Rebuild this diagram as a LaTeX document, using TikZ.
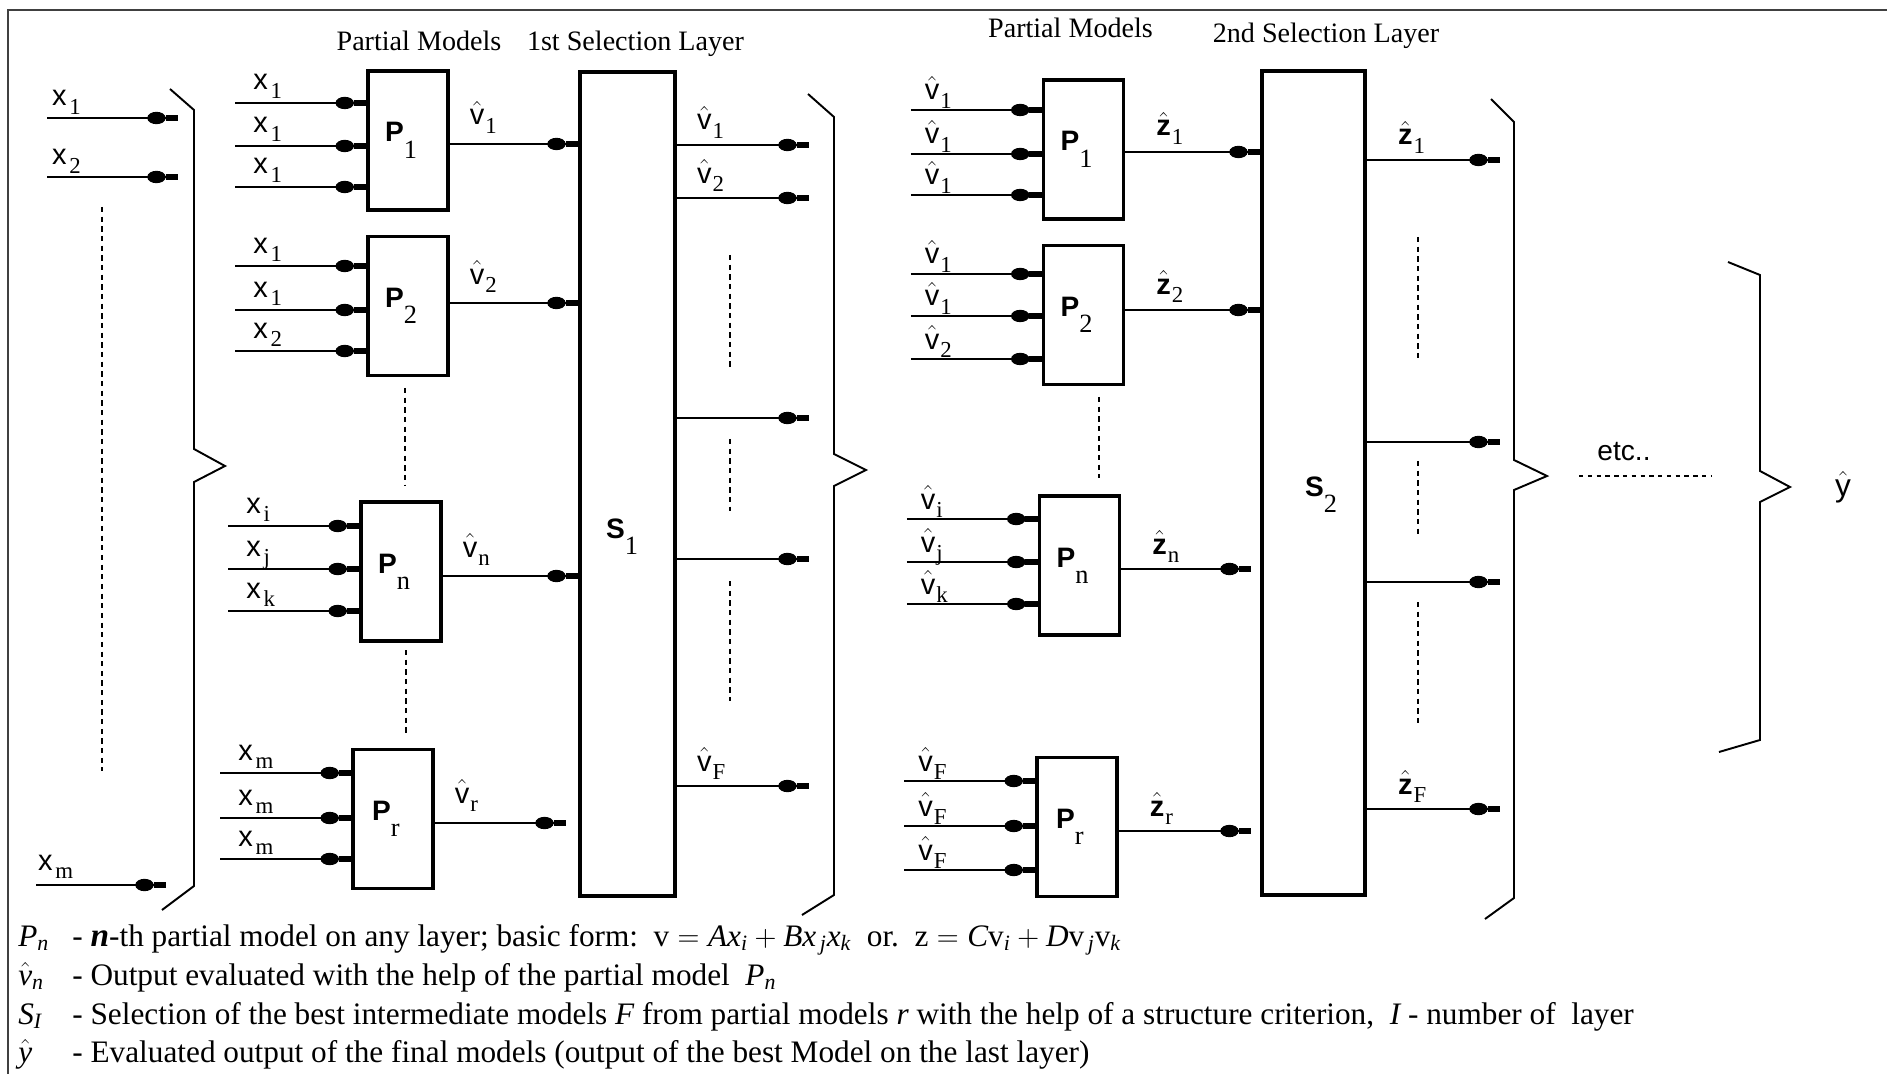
\documentclass[tikz,border=0pt]{standalone}
\usepackage{fontspec}
\setmainfont{Liberation Serif}
\setsansfont{Liberation Sans}
\usetikzlibrary{arrows.meta, calc}

% labels: sans letter with a lowered serif index
\newcommand{\subsc}[1]{\raisebox{-0.55ex}{\fontsize{13}{13}\selectfont\rmfamily\mdseries #1}}
\newcommand{\xin}[1]{x\kern1.5pt\subsc{#1}}
\newcommand{\vh}[1]{$\hat{\mbox{v}}$\kern0.5pt\subsc{#1}}
\newcommand{\zh}[1]{$\hat{\mbox{\bfseries z}}$\kern0.5pt\subsc{#1}}
\newcommand{\blab}[2]{{\bfseries #1}\raisebox{-1.1ex}{\fontsize{15}{15}\selectfont\rmfamily\mdseries #2}}

\tikzset{
  blob/.tip={Ellipse[length=10.5pt,width=7pt] Rectangle[length=7pt,width=3.4pt]},
  arr/.style={-blob, line width=1.3pt},
  pbox/.style={rectangle, draw, line width=2pt, minimum width=1.6cm,
    minimum height=2.78cm, inner sep=0pt, font=\fontsize{16}{16}\selectfont\sffamily},
  sbox/.style={rectangle, draw, line width=2pt, minimum height=16.49cm, inner sep=0pt},
  slbl/.style={inner sep=0pt, font=\fontsize{16}{16}\selectfont\sffamily},
  lbl/.style={anchor=base west, inner sep=0pt, font=\fontsize{16.5}{16.5}\selectfont\sffamily},
  title/.style={anchor=base, inner sep=0pt, font=\fontsize{16}{16}\selectfont},
  dots/.style={line width=0.7pt, dash pattern=on 3pt off 2.5pt},
  brace/.style={line width=1.1pt},
  legend/.style={anchor=base west, inner sep=0pt, font=\fontsize{17.8}{17.8}\selectfont}
}

\begin{document}
\begin{tikzpicture}[x=0.02cm, y=-0.02cm]
  \useasboundingbox (0,0) rectangle (1887,1074);
  \draw[line width=1pt, black!75] (8,1074) -- (8,10) -- (1887,10);

  % Titles
  \node[title] (t1) at (419,51) {Partial Models};
  \node[title] (t2) at (635.5,51) {1st Selection Layer};
  \node[title] (t3) at (1070.5,38) {Partial Models};
  \node[title] (t4) at (1326,43) {2nd Selection Layer};

  % Partial models, first layer
  \node[pbox] (P1) at (408,140.5) {\blab{P}{1}\kern8pt};
  \node[pbox] (P2) at (408,306) {\blab{P}{2}\kern8pt};
  \node[pbox] (Pn) at (401,571.5) {\blab{P}{n}\kern8pt};
  \node[pbox] (Pr) at (393,819) {\blab{P}{r}\kern8pt};

  % Partial models, second layer
  \node[pbox] (Q1) at (1083.5,149.5) {\blab{P}{1}\kern8pt};
  \node[pbox] (Q2) at (1083.5,315) {\blab{P}{2}\kern8pt};
  \node[pbox] (Qn) at (1079.5,565.5) {\blab{P}{n}\kern8pt};
  \node[pbox] (Qr) at (1077,827) {\blab{P}{r}\kern8pt};

  % Selection layers
  \node[sbox, minimum width=1.91cm] (S1) at (627.5,484) {};
  \node[sbox, minimum width=2.07cm] (S2) at (1313.5,483) {};
  \node[slbl] (S1l) at (622,537) {\blab{S}{1}};
  \node[slbl] (S2l) at (1321,495) {\blab{S}{2}};

  % Inputs
  \coordinate (x1a) at (47,118);  \coordinate (x1b) at (178,118);
  \coordinate (x2a) at (47,177);  \coordinate (x2b) at (178,177);
  \coordinate (xma) at (36,885);  \coordinate (xmb) at (166,885);
  \draw[arr] (x1a) node[lbl, xshift=0.08cm, yshift=0.24cm] {\xin{1}} -- (x1b);
  \draw[arr] (x2a) node[lbl, xshift=0.08cm, yshift=0.24cm] {\xin{2}} -- (x2b);
  \draw[arr] (xma) node[lbl, xshift=0.02cm, yshift=0.3cm] {\xin{m}} -- (xmb);
  \draw[dots] (102,207) -- (102,771);

  \foreach \bx/\y/\lab in {P1/103/1, P1/146/1, P1/187/1, P2/266/1, P2/310/1, P2/351/2,
      Pn/526/i, Pn/569/j, Pn/611/k, Pr/773/m, Pr/818/m, Pr/859/m}{
    \coordinate (\bx-\y) at ($(\bx.west |- 0,\y)+(-131,0)$);
    \draw[arr] (\bx-\y) node[lbl, xshift=0.34cm, yshift=0.26cm] {\xin{\lab}} -- (\bx.west |- 0,\y);
  }
  \draw[dots] (405,388) -- (405,485);
  \draw[dots] (406,650) -- (406,735);

  % Outputs of the first layer
  \foreach \bx/\y/\lab in {P1/144/1, P2/303/2, Pn/576/n}
    \draw[arr] (\bx.east |- 0,\y) node[lbl, xshift=0.38cm, yshift=0.38cm] {\vh{\lab}} -- (S1.west |- 0,\y);
  \draw[arr, shorten >=0.24cm] (Pr.east |- 0,823) node[lbl, xshift=0.38cm, yshift=0.4cm] {\vh{r}} -- (S1.west |- 0,823);

  % First selection layer
  \foreach \y/\lab [count=\i] in {145/\vh{1}, 198/\vh{2}, 418/{}, 559/{}, 786/\vh{F}}{
    \coordinate (s1o\i) at ($(S1.east |- 0,\y)+(132,0)$);
    \draw[arr] (S1.east |- 0,\y) node[lbl, xshift=0.38cm, yshift=0.3cm] {\lab} -- (s1o\i);
  }
  \draw[dots] (730,255) -- (730,370);
  \draw[dots] (730,439) -- (730,511);
  \draw[dots] (730,581) -- (730,701);

  % Partial models, second layer
  \foreach \bx/\y/\lab in {Q1/110/1, Q1/154/1, Q1/195/1, Q2/274/1, Q2/316/1, Q2/359/2,
      Qn/519/i, Qn/562/j, Qn/604/k, Qr/781/F, Qr/826/F, Qr/870/F}{
    \coordinate (\bx-\y) at ($(\bx.west |- 0,\y)+(-131,0)$);
    \draw[arr] (\bx-\y) node[lbl, xshift=0.26cm, yshift=0.2cm] {\vh{\lab}} -- (\bx.west |- 0,\y);
  }
  \draw[dots] (1099,397) -- (1099,478);

  \foreach \bx/\y/\lab in {Q1/152/1, Q2/310/2}
    \draw[arr] (\bx.east |- 0,\y) node[lbl, xshift=0.6cm, yshift=0.32cm] {\zh{\lab}} -- (S2.west |- 0,\y);
  \foreach \bx/\y/\lab in {Qn/569/n, Qr/831/r}
    \draw[arr, shorten >=0.18cm] (\bx.east |- 0,\y) node[lbl, xshift=0.6cm, yshift=0.3cm] {\zh{\lab}} -- (S2.west |- 0,\y);

  % Second selection layer
  \foreach \y/\lab [count=\i] in {160/\zh{1}, 442/{}, 582/{}, 809/\zh{F}}{
    \coordinate (s2o\i) at ($(S2.east |- 0,\y)+(133,0)$);
    \draw[arr] (S2.east |- 0,\y) node[lbl, xshift=0.6cm, yshift=0.3cm] {\lab} -- (s2o\i);
  }
  \draw[dots] (1418,237) -- (1418,359);
  \draw[dots] (1418,461) -- (1418,534);
  \draw[dots] (1418,602) -- (1418,724);

  % Braces
  \draw[brace] (170,89) -- (194,110) -- (194,449) -- (225,466) -- (194,482) -- (194,886) -- (162,910);
  \draw[brace] (808,94) -- (834,117) -- (834,454) -- (866,470) -- (834,486) -- (834,895) -- (802,915);
  \draw[brace] (1491,99) -- (1514,122) -- (1514,460) -- (1547,476) -- (1514,490) -- (1514,898) -- (1485,919);
  \draw[brace] (1728,262) -- (1760,275) -- (1760,471) -- (1790,487) -- (1760,502) -- (1760,740) -- (1719,752);

  % Further layers
  \node[inner sep=0pt, font=\fontsize{16}{16}\selectfont\sffamily] (etc) at (1624,452) {etc..};
  \draw[line width=0.7pt, dash pattern=on 2.5pt off 2.5pt] (1579,476) -- (1712,476);
  \node[inner sep=0pt, font=\fontsize{18}{18}\selectfont\sffamily] (yhat) at (1843,487) {$\hat{\mbox{y}}$};

  % Legend
  \node[legend] (k1) at (18,946) {$\mathit{P}_{\mathit{n}}$};
  \node[legend] (d1) at (72,946) {- {\fontsize{19}{19}\selectfont\bfseries\itshape n}-th partial model on any layer; basic form:\ \ $\mathrm{v} = \mathit{Ax}_{\mathit{i}} + \mathit{Bx}_{\,\mathit{j}}\mathit{x}_{\mathit{k}}$\ \ or.\ \ $\mathrm{z} = \mathit{C}\mathrm{v}_{\mathit{i}} + \mathit{D}\mathrm{v}_{\,\mathit{j}}\mathrm{v}_{\mathit{k}}$};
  \node[legend] (k2) at (18,985) {$\hat{\mathit{v}}_{\mathit{n}}$};
  \node[legend] (d2) at (72,985) {- Output evaluated with the help of the partial model\ \ $\mathit{P}_{\mathit{n}}$};
  \node[legend] (k3) at (18,1024) {$\mathit{S}_{\mathit{I}}$};
  \node[legend] (d3) at (72,1024) {- Selection of the best intermediate models $\mathit{F}$ from partial models $\mathit{r}$ with the help of a structure criterion,\ \ $\mathit{I}$ - number of\ \ layer};
  \node[legend] (k4) at (18,1062) {$\hat{\mathit{y}}$};
  \node[legend] (d4) at (72,1062) {- Evaluated output of the final models (output of the best Model on the last layer)};
\end{tikzpicture}
\end{document}
